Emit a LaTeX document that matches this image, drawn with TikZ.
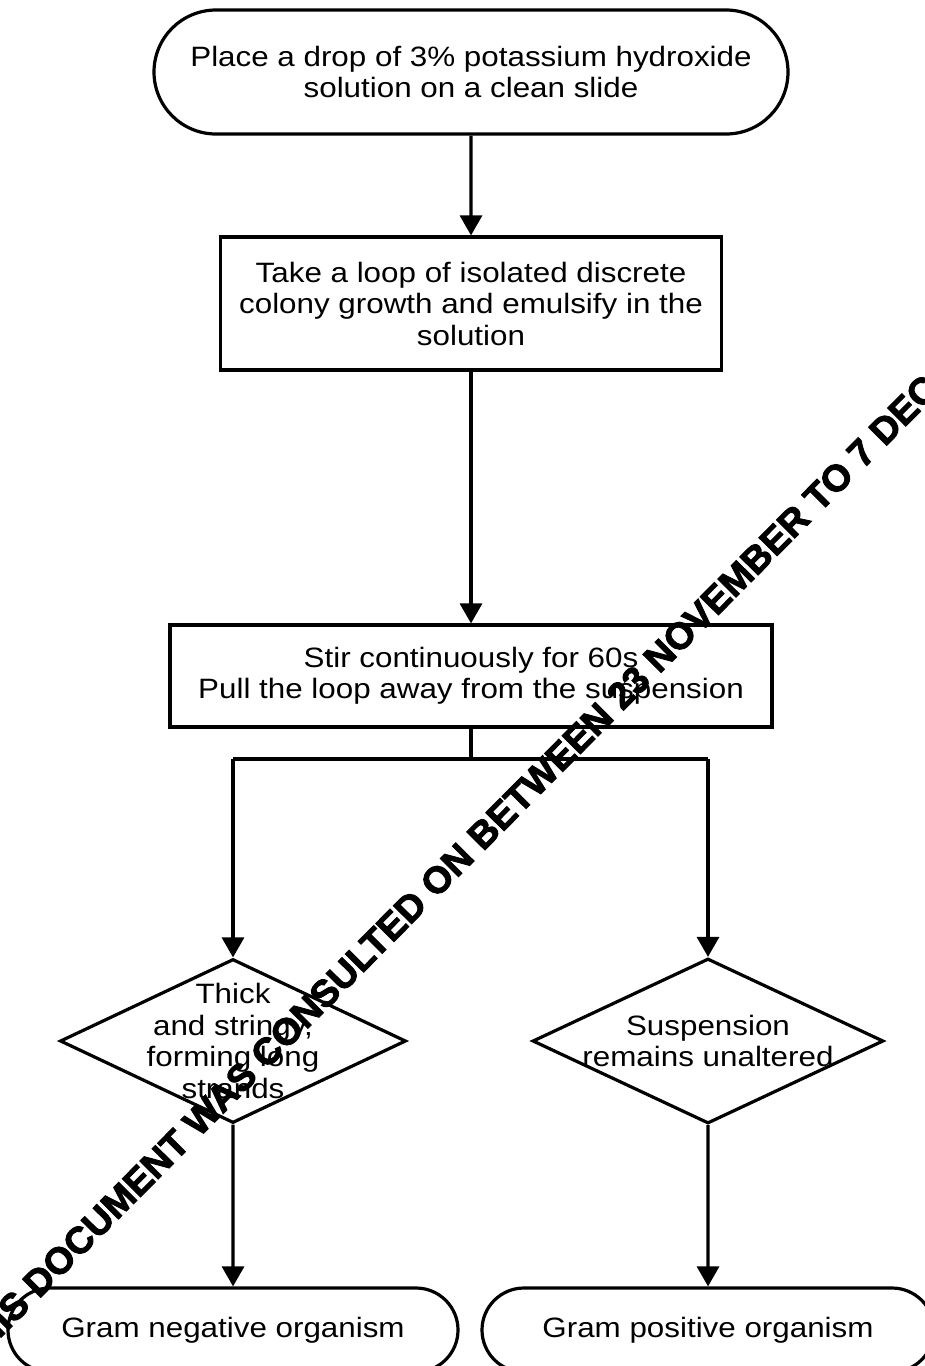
\documentclass[tikz,border=0pt]{standalone}
\usepackage{fontspec}
\setmainfont{Liberation Sans}[FakeStretch=1.12]
\newfontfamily\stampfont{Liberation Sans}[FakeBold=2.5]
\usepackage{xcolor}
\usetikzlibrary{shapes.misc,shapes.geometric,arrows.meta}

\begin{document}
\begin{tikzpicture}[x=1pt,y=-1pt,
        terminal/.style={rounded rectangle, draw, line width=3.2pt, inner sep=0pt, align=center},
        process/.style={rectangle, draw, line width=3.2pt, inner sep=0pt, align=center},
        decision/.style={diamond, draw, line width=3.2pt, inner sep=0pt},
        flow/.style={line width=3.2pt, -{Triangle[length=20pt,width=22pt]}},
        plain/.style={line width=3.2pt},
        stamp/.style={font=\stampfont\bfseries\fontsize{37.5}{37.5}\selectfont, inner sep=0pt}]
        \fontsize{28}{31.5}\selectfont
        %BATAS
        \useasboundingbox (0,0) rectangle (925,1366);
        \clip (0,0) rectangle (925,1366);
        %NODE
        \node[terminal, minimum width=634pt, minimum height=124pt] (place) at (471,72) {Place a drop of 3\% potassium hydroxide\\solution on a clean slide};
        \node[process, minimum width=501pt, minimum height=133pt] (loop) at (471,303.5) {Take a loop of isolated discrete\\colony growth and emulsify in the\\solution};
        \node[process, minimum width=602pt, minimum height=102pt] (stir) at (471,676) {Stir continuously for 60s\\Pull the loop away from the suspension};
        \node[decision, minimum width=346pt, minimum height=164pt] (thick) at (233,1041) {};
        \node[align=center, inner sep=0pt] (thicktext) at (thick) {Thick\\and stringy,\\forming long\\strands};
        \node[decision, minimum width=351pt, minimum height=165pt] (susp) at (708,1041) {};
        \node[align=center, inner sep=0pt] (susptext) at (susp) {Suspension\\remains unaltered};
        \node[terminal, minimum width=450pt, minimum height=84pt] (neg) at (233,1330) {Gram negative organism};
        \node[terminal, minimum width=452pt, minimum height=84pt] (pos) at (708,1330) {Gram positive organism};
        %KOORDINAT
        \coordinate (split) at (471,759);
        \coordinate (splitL) at (233,759);
        \coordinate (splitR) at (708,759);
        %GARIS
        \draw[flow] (place) -- (loop);
        \draw[flow] (loop) -- (stir);
        \draw[plain] (stir.south) -- (split);
        \draw[plain] (splitL) -- (splitR);
        \draw[flow] (splitL) -- (thick.north);
        \draw[flow] (splitR) -- (susp.north);
        \draw[flow] (thick.south) -- (neg);
        \draw[flow] (susp.south) -- (pos);
        %CAP
        \node[stamp, rotate=45.2] (stampnote) at (447,870) {THIS DOCUMENT WAS CONSULTED ON BETWEEN 23 NOVEMBER TO 7 DEC};
    \end{tikzpicture}
\end{document}
